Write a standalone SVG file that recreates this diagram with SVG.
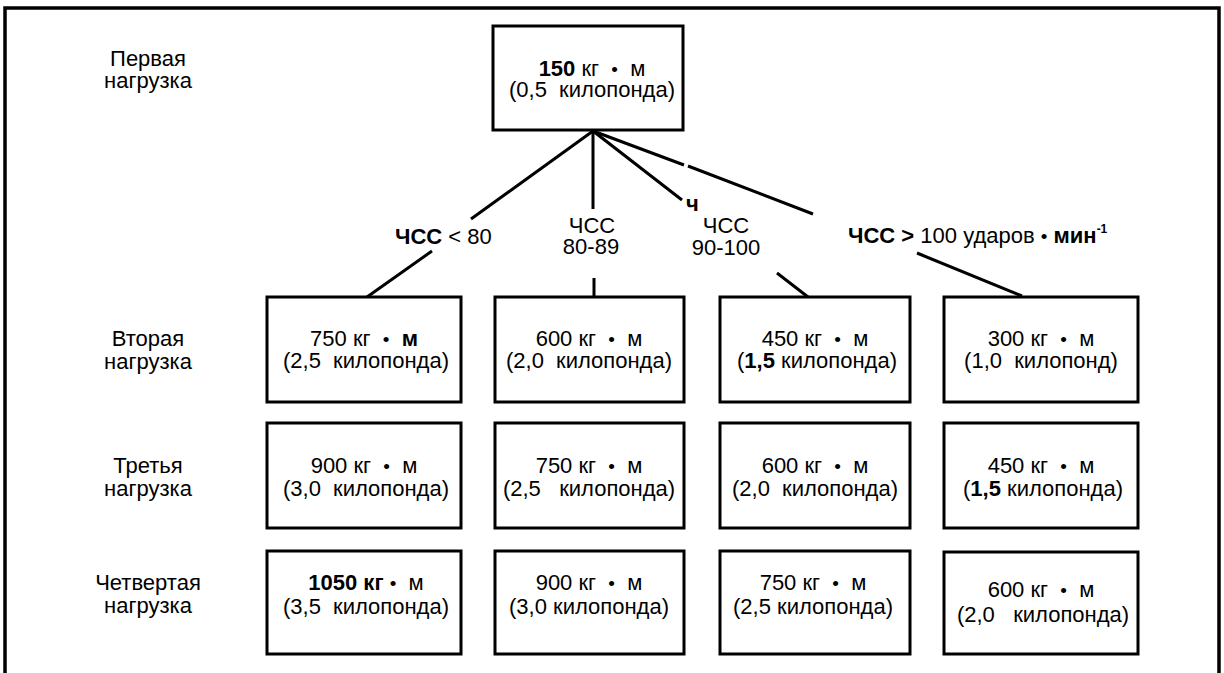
<svg xmlns="http://www.w3.org/2000/svg" width="1224" height="673" viewBox="0 0 1224 673">
  <style>
    text { font-family: "Liberation Sans", Arial, sans-serif; font-size: 22px; fill: #000; white-space: pre; }
    .c { text-anchor: middle; }
    .b { font-weight: bold; }
    .d { font-size: 19px; }
    .box { fill: #fff; stroke: #000; stroke-width: 3; }
    .edge { fill: none; stroke: #000; stroke-width: 3; }
    .frame { fill: none; stroke: #000; stroke-width: 3.5; }
    .sup { font-size: 12px; font-weight: bold; }
  </style>

  <rect width="1224" height="673" fill="#fff"/>
  <path class="frame" d="M5,673 V8 H1219 V673"/>

  <!-- row captions -->
  <g id="label-row1">
    <text class="c" x="148" y="66">Первая</text>
    <text class="c" x="148" y="88">нагрузка</text>
  </g>
  <g id="label-row2">
    <text class="c" x="148" y="346">Вторая</text>
    <text class="c" x="148" y="369">нагрузка</text>
  </g>
  <g id="label-row3">
    <text class="c" x="148" y="473">Третья</text>
    <text class="c" x="148" y="496">нагрузка</text>
  </g>
  <g id="label-row4">
    <text class="c" x="148" y="590">Четвертая</text>
    <text class="c" x="148" y="613">нагрузка</text>
  </g>

  <!-- branches from the first load, broken where the heart-rate labels sit -->
  <g id="connectors">
    <path class="edge" d="M593,131 L471,219 M432,251 L367,297"/>
    <path class="edge" d="M593,131 V209 M594,278 V297"/>
    <path class="edge" d="M593,131 L682,200 M777,273 L808,297"/>
    <path class="edge" d="M593,131 L684,165 M688,166 L813,214 M917,253 L1022,296"/>
  </g>

  <!-- heart-rate conditions -->
  <g id="cond-lt80">
    <text x="395" y="244"><tspan class="b">ЧСС</tspan> &lt; 80</text>
  </g>
  <g id="cond-80-89">
    <text class="c" x="592" y="233">ЧСС</text>
    <text class="c" x="591" y="254">80-89</text>
  </g>
  <g id="cond-90-100">
    <text class="b" x="686" y="211">ч</text>
    <text class="c" x="726" y="233">ЧСС</text>
    <text class="c" x="726" y="255">90-100</text>
  </g>
  <g id="cond-gt100">
    <text x="848" y="243"><tspan class="b">ЧСС &gt;</tspan> 100 ударов <tspan class="d">•</tspan> <tspan class="b">мин</tspan><tspan class="sup" dy="-10">-1</tspan></text>
  </g>

  <!-- first load -->
  <g id="load1">
    <rect class="box" x="493" y="26" width="190" height="104"/>
    <text class="c" x="592" y="76"><tspan class="b">150</tspan> кг  <tspan class="d">•</tspan>  м</text>
    <text class="c" x="592" y="97">(0,5  килопонда)</text>
  </g>

  <!-- second load -->
  <g id="load2-a">
    <rect class="box" x="267" y="297" width="194" height="105"/>
    <text class="c" x="364" y="346">750 кг  <tspan class="d">•</tspan>  <tspan class="b">м</tspan></text>
    <text class="c" x="366" y="368">(2,5  килопонда)</text>
  </g>
  <g id="load2-b">
    <rect class="box" x="495" y="297" width="189" height="105"/>
    <text class="c" x="589" y="346">600 кг  <tspan class="d">•</tspan>  м</text>
    <text class="c" x="589" y="368">(2,0  килопонда)</text>
  </g>
  <g id="load2-c">
    <rect class="box" x="720" y="297" width="190" height="105"/>
    <text class="c" x="815" y="346">450 кг  <tspan class="d">•</tspan>  м</text>
    <text class="c" x="817" y="368">(<tspan class="b">1,5</tspan> килопонда)</text>
  </g>
  <g id="load2-d">
    <rect class="box" x="944" y="297" width="194" height="105"/>
    <text class="c" x="1041" y="346">300 кг  <tspan class="d">•</tspan>  м</text>
    <text class="c" x="1041" y="368">(1,0  килопонд)</text>
  </g>

  <!-- third load -->
  <g id="load3-a">
    <rect class="box" x="267" y="423" width="194" height="105"/>
    <text class="c" x="364" y="473">900 кг  <tspan class="d">•</tspan>  м</text>
    <text class="c" x="366" y="496">(3,0  килопонда)</text>
  </g>
  <g id="load3-b">
    <rect class="box" x="495" y="423" width="189" height="105"/>
    <text class="c" x="589" y="473">750 кг  <tspan class="d">•</tspan>  м</text>
    <text class="c" x="589" y="496">(2,5   килопонда)</text>
  </g>
  <g id="load3-c">
    <rect class="box" x="720" y="423" width="190" height="105"/>
    <text class="c" x="815" y="473">600 кг  <tspan class="d">•</tspan>  м</text>
    <text class="c" x="815" y="496">(2,0  килопонда)</text>
  </g>
  <g id="load3-d">
    <rect class="box" x="944" y="423" width="194" height="105"/>
    <text class="c" x="1041" y="473">450 кг  <tspan class="d">•</tspan>  м</text>
    <text class="c" x="1043" y="496">(<tspan class="b">1,5</tspan> килопонда)</text>
  </g>

  <!-- fourth load -->
  <g id="load4-a">
    <rect class="box" x="267" y="551" width="194" height="103"/>
    <text class="c" x="366" y="590"><tspan class="b">1050 кг</tspan> <tspan class="d">•</tspan>  м</text>
    <text class="c" x="366" y="614">(3,5  килопонда)</text>
  </g>
  <g id="load4-b">
    <rect class="box" x="495" y="551" width="189" height="103"/>
    <text class="c" x="589" y="590">900 кг  <tspan class="d">•</tspan>  м</text>
    <text class="c" x="589" y="614">(3,0 килопонда)</text>
  </g>
  <g id="load4-c">
    <rect class="box" x="720" y="551" width="190" height="103"/>
    <text class="c" x="813" y="590">750 кг  <tspan class="d">•</tspan>  м</text>
    <text class="c" x="813" y="614">(2,5 килопонда)</text>
  </g>
  <g id="load4-d">
    <rect class="box" x="944" y="552" width="194" height="102"/>
    <text class="c" x="1041" y="597">600 кг  <tspan class="d">•</tspan>  м</text>
    <text class="c" x="1043" y="622">(2,0   килопонда)</text>
  </g>
</svg>
